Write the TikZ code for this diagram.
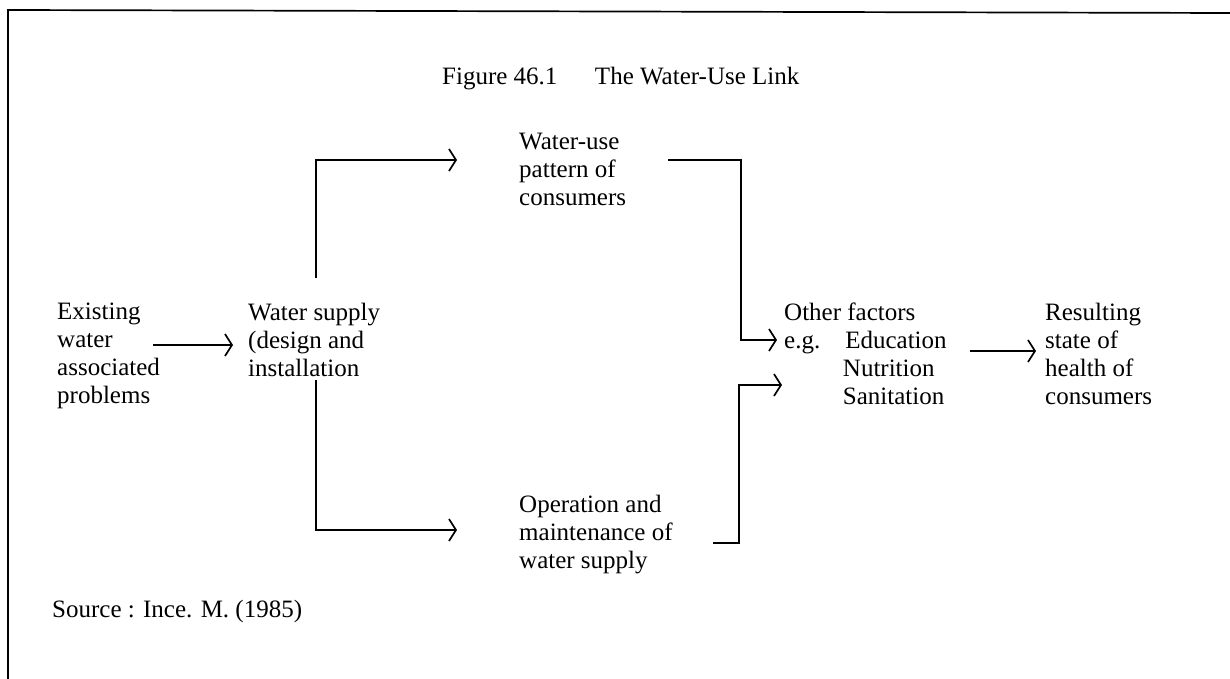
\documentclass[tikz,border=0pt]{standalone}
\usepackage{fontspec}
\setmainfont{Liberation Serif}
\usetikzlibrary{arrows.meta}
\begin{document}
\begin{tikzpicture}[x=1pt,y=-1pt,
  txt/.style={align=left, anchor=north west, inner sep=0pt, font=\fontsize{25}{28}\selectfont},
  conn/.style={line width=1.7pt},
  arr/.style={conn, -{Straight Barb[length=7pt,width=22pt,line width=1.7pt]}}]
\useasboundingbox (0,0) rectangle (1230,679);
\draw[line width=1.7pt] (8,679) -- (8,10) -- (1230,13);
\node[txt] (title) at (442,67) {Figure 46.1\hspace{1.5em}The Water-Use Link};
\node[txt] (exist) at (57,303) {Existing\\water\\associated\\problems};
\node[txt] (supply) at (248,303) {Water supply\\(design and\\installation};
\node[txt] (wu) at (519,133) {Water-use\\pattern of\\consumers};
\node[txt] (om) at (519,495) {Operation and\\maintenance of\\water supply};
\node[txt] (other) at (784,303) {Other factors\\e.g.\hspace{1.0em}Education\\\hspace{2.35em}Nutrition\\\hspace{2.35em}Sanitation};
\node[txt] (result) at (1045,303) {Resulting\\state of\\health of\\consumers};
\node[txt] (source) at (52,600) {Source : Ince. M. (1985)};
\coordinate (a1) at (153,345);
\coordinate (a2) at (233,345);
\coordinate (s1) at (316,278);
\coordinate (s2) at (316,380);
\coordinate (t1) at (457,160);
\coordinate (b1) at (457,530);
\coordinate (w1) at (668,160);
\coordinate (w2) at (777,340);
\coordinate (o1) at (713,543);
\coordinate (o2) at (782,385);
\coordinate (r1) at (970,351);
\coordinate (r2) at (1036,351);
\draw[arr] (a1) -- (a2);
\draw[arr] (s1) |- (t1);
\draw[arr] (s2) |- (b1);
\draw[arr] (w1) -| (741,340) -- (w2);
\draw[arr] (o1) -| (739,385) -- (o2);
\draw[arr] (r1) -- (r2);
\end{tikzpicture}
\end{document}
